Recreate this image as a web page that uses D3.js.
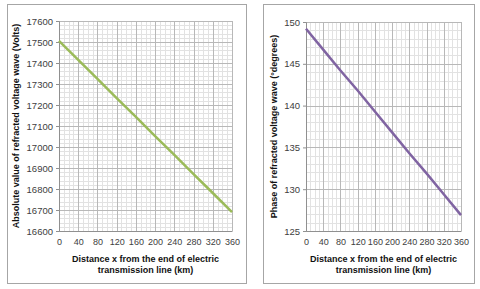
<!DOCTYPE html>
<html lang="en">
  <head>
    <meta charset="UTF-8" />
    <title>Refracted voltage wave</title>
    <style>
      body { margin: 0; background: #fff; }
      svg { display: block; }
      .tick text { font-family: Arial, 'Liberation Sans', sans-serif; font-size: 9.5px; fill: #404040; }
      .xaxis .tick text { font-size: 9px; }
      .title { font-family: Arial, 'Liberation Sans', sans-serif; font-size: 9px; font-weight: bold; fill: #111; }
    </style>
    <script src="https://cdn.jsdelivr.net/npm/d3@7"></script>
  </head>
  <body>
    <svg width="480" height="289"></svg>
    <script>
      var distance = [0, 40, 80, 120, 160, 200, 240, 280, 320, 360]
      var amplitude = [17505, 17415, 17324, 17233, 17143, 17052, 16962, 16871, 16781, 16690]
      var phase = [149.2, 146.7, 144.2, 141.8, 139.3, 136.8, 134.3, 131.9, 129.4, 126.9]
      var xTicks = [0, 40, 80, 120, 160, 200, 240, 280, 320, 360]
      var ampTicks = [16600, 16700, 16800, 16900, 17000, 17100, 17200, 17300, 17400, 17500, 17600]
      var phaseTicks = [125, 130, 135, 140, 145, 150]

      var svg = d3.select('svg')

      function panel(opt) {
        svg.append('rect')
          .attr('x', opt.box[0] + 0.5).attr('y', opt.box[1] + 0.5)
          .attr('width', opt.box[2]).attr('height', opt.box[3])
          .attr('fill', '#fff').attr('stroke', '#a6a6a6')

        var x = d3.scaleLinear().domain([0, 360]).range([opt.left, opt.right])
        var y = d3.scaleLinear().domain(opt.yDomain).range([opt.bottom, opt.top])
        var g = svg.append('g')

        // minor grid
        g.selectAll('.vminor').data(d3.range(0, 361, 10)).enter().append('line')
          .attr('x1', d => Math.round(x(d)) + 0.5).attr('x2', d => Math.round(x(d)) + 0.5)
          .attr('y1', opt.top).attr('y2', opt.bottom)
          .attr('stroke', '#e2e2e2')
        g.selectAll('.hminor').data(d3.range(opt.yDomain[0], opt.yDomain[1] + 1e-6, opt.minorStep)).enter().append('line')
          .attr('y1', d => Math.round(y(d)) + 0.5).attr('y2', d => Math.round(y(d)) + 0.5)
          .attr('x1', opt.left).attr('x2', opt.right)
          .attr('stroke', '#e2e2e2')

        // major grid
        g.selectAll('.vmajor').data(xTicks).enter().append('line')
          .attr('x1', d => Math.round(x(d)) + 0.5).attr('x2', d => Math.round(x(d)) + 0.5)
          .attr('y1', opt.top).attr('y2', opt.bottom)
          .attr('stroke', '#b8b8b8')
        g.selectAll('.hmajor').data(opt.yTicks).enter().append('line')
          .attr('y1', d => Math.round(y(d)) + 0.5).attr('y2', d => Math.round(y(d)) + 0.5)
          .attr('x1', opt.left).attr('x2', opt.right)
          .attr('stroke', '#b8b8b8')

        var xAxis = d3.axisBottom(x).tickValues(xTicks).tickSize(0).tickPadding(8).tickFormat(d3.format('d'))
        svg.append('g').attr('class', 'xaxis').attr('transform', `translate(0, ${opt.bottom})`).call(xAxis)
          .call(s => s.select('.domain').attr('stroke', '#909090'))

        var yAxis = d3.axisLeft(y).tickValues(opt.yTicks).tickSize(3).tickPadding(3).tickFormat(d3.format('d'))
        svg.append('g').attr('transform', `translate(${opt.left}, 0)`).call(yAxis)
          .call(s => s.select('.domain').attr('stroke', '#909090'))
          .call(s => s.selectAll('.tick line').attr('stroke', '#909090'))

        var line = d3.line().x((d, i) => x(distance[i])).y(d => y(d))
        svg.append('path').datum(opt.values)
          .attr('d', line).attr('fill', 'none')
          .attr('stroke', opt.color).attr('stroke-width', 2.5)

        var cx = (opt.left + opt.right) / 2
        svg.append('text').attr('class', 'title').attr('text-anchor', 'middle')
          .attr('x', cx).attr('y', 262).text('Distance x from the end of electric')
        svg.append('text').attr('class', 'title').attr('text-anchor', 'middle')
          .attr('x', cx).attr('y', 273).text('transmission line (km)')

        svg.append('text').attr('class', 'title').attr('text-anchor', 'middle')
          .attr('transform', `translate(${opt.yTitleX}, ${(opt.top + opt.bottom) / 2}) rotate(-90)`)
          .text(opt.yTitle)
      }

      panel({
        box: [7, 4, 239, 279], left: 59, right: 232, top: 21, bottom: 231,
        yDomain: [16600, 17600], yTicks: ampTicks, minorStep: 20,
        values: amplitude, color: '#9bbb59', yTitleX: 19,
        yTitle: 'Absolute value of refracted voltage wave (Volts)'
      })
      panel({
        box: [263, 4, 211, 279], left: 306, right: 461, top: 22, bottom: 231,
        yDomain: [125, 150], yTicks: phaseTicks, minorStep: 1,
        values: phase, color: '#8064a2', yTitleX: 277,
        yTitle: 'Phase of refracted voltage wave (°degrees)'
      })
    </script>
  </body>
</html>
